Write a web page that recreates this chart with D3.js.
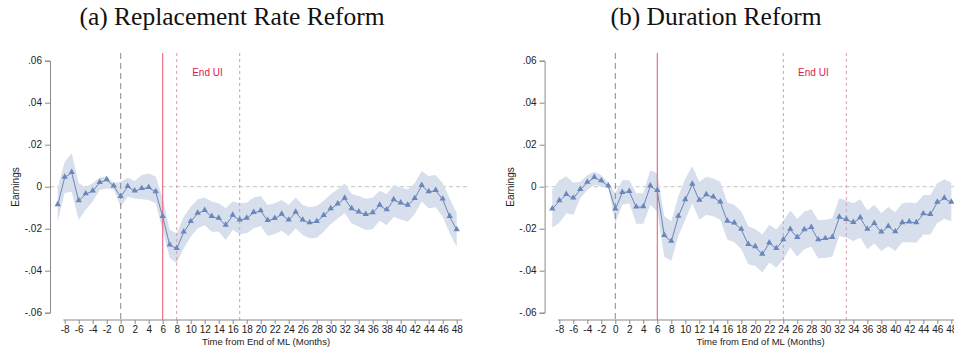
<!DOCTYPE html>
<html>
<head>
<meta charset="utf-8">
<script src="https://cdn.jsdelivr.net/npm/d3@7"></script>
<style>
  body { margin: 0; background: #fff; }
  svg { display: block; }
  .tick text { font-family: "Liberation Sans", Arial, sans-serif; font-size: 10px; fill: #222; }
</style>
</head>
<body>
<svg id="chart" width="954" height="355"></svg>
<script>
// months since end of maternity leave
var months = d3.range(-9, 49)

var xTicks = d3.range(-8, 49, 2)
var yTicks = [-0.06, -0.04, -0.02, 0, 0.02, 0.04, 0.06]

// (a) replacement rate reform
var rrEst = [-0.0087, 0.0044, 0.0067, -0.0068, -0.0035, -0.0021, 0.0019, 0.0032, 0.0003, -0.0048,
  0, -0.0021, -0.001, -0.0005, -0.0025, -0.0143, -0.0278, -0.0295, -0.0217, -0.0167,
  -0.0127, -0.0114, -0.0143, -0.0151, -0.0184, -0.0137, -0.0159, -0.0151, -0.0124, -0.0116,
  -0.0162, -0.0152, -0.0132, -0.016, -0.0122, -0.016, -0.0173, -0.0167, -0.0138, -0.0106,
  -0.0083, -0.0056, -0.0106, -0.0121, -0.0133, -0.0125, -0.0089, -0.0111, -0.0063, -0.0078,
  -0.0089, -0.0057, 0.0005, -0.0025, -0.0019, -0.006, -0.0143, -0.0206]
var rrHi = [-0.0005, 0.0119, 0.0159, 0.0016, -0.0003, 0.0016, 0.0044, 0.005, 0.0016, 0.0024,
  0.0043, 0.0027, 0.0056, 0.0063, 0.0048, -0.0056, -0.0206, -0.0222, -0.0143, -0.0095,
  -0.006, -0.0051, -0.0071, -0.0079, -0.0103, -0.0071, -0.0079, -0.0076, -0.0051, -0.0044,
  -0.0087, -0.0079, -0.0063, -0.0087, -0.0051, -0.0087, -0.0098, -0.0092, -0.0067, -0.0035,
  -0.0013, 0.0016, -0.0035, -0.0044, -0.0057, -0.0051, -0.0019, -0.0035, 0.0008, -0.0003,
  -0.0013, 0.0016, 0.0075, 0.0051, 0.0056, 0.0016, -0.0056, -0.0127]
var rrLo = [-0.0165, -0.003, -0.0024, -0.0159, -0.011, -0.007, -0.0016, -0.0008, -0.0013, -0.0095,
  -0.0048, -0.0056, -0.006, -0.0063, -0.0079, -0.0206, -0.034, -0.0365, -0.0294, -0.0238,
  -0.0198, -0.0183, -0.0214, -0.0214, -0.0254, -0.0206, -0.0225, -0.0222, -0.0198, -0.0187,
  -0.0235, -0.0225, -0.021, -0.0235, -0.0198, -0.023, -0.0246, -0.0243, -0.0214, -0.0178,
  -0.0151, -0.0127, -0.0175, -0.019, -0.0206, -0.0203, -0.0162, -0.0183, -0.0143, -0.0156,
  -0.0167, -0.013, -0.0071, -0.0103, -0.0098, -0.0143, -0.0222, -0.0286]

// (b) duration reform
var durEst = [-0.0107, -0.0068, -0.0038, -0.0055, -0.0014, 0.002, 0.0043, 0.0027, 0.0003, -0.0107,
  -0.0028, -0.0024, -0.0098, -0.0096, 0.0003, -0.0019, -0.0233, -0.0261, -0.0142, -0.0063,
  0.0011, -0.0066, -0.0039, -0.005, -0.0074, -0.0165, -0.0174, -0.0204, -0.0276, -0.0287,
  -0.0322, -0.0269, -0.0295, -0.0254, -0.0204, -0.0243, -0.0206, -0.0195, -0.0254, -0.0248,
  -0.0243, -0.0146, -0.0157, -0.0171, -0.0149, -0.0204, -0.0176, -0.0217, -0.019, -0.0216,
  -0.0172, -0.0169, -0.0172, -0.013, -0.0133, -0.0075, -0.0056, -0.0075]
var durHi = [-0.0013, 0.0031, 0.005, 0.0019, 0.0024, 0.0055, 0.0071, 0.0055, 0.0019, -0.0031,
  0.0031, 0.0031, -0.0031, -0.0031, 0.0078, 0.0063, -0.0141, -0.0165, -0.0047, 0.0039,
  0.0097, 0.0024, 0.0047, 0.0039, 0.0024, -0.0075, -0.0086, -0.0118, -0.0188, -0.0201,
  -0.0228, -0.0181, -0.0204, -0.0165, -0.0113, -0.0154, -0.0118, -0.0107, -0.016, -0.0157,
  -0.0152, -0.0055, -0.0066, -0.0079, -0.006, -0.0113, -0.0086, -0.0126, -0.0097, -0.0122,
  -0.0079, -0.0075, -0.0079, -0.0039, -0.0039, 0.0016, 0.0035, 0.0019]
var durLo = [-0.0196, -0.0173, -0.0126, -0.0133, -0.0055, -0.0016, 0.0008, 0, -0.0003, -0.0173,
  -0.0086, -0.0079, -0.0176, -0.0176, -0.0086, -0.0118, -0.0333, -0.0353, -0.0235, -0.0157,
  -0.0079, -0.0157, -0.0133, -0.0141, -0.0157, -0.0251, -0.0264, -0.0298, -0.0369, -0.0377,
  -0.0408, -0.0361, -0.0385, -0.0345, -0.029, -0.0333, -0.0298, -0.0286, -0.0342, -0.0338,
  -0.0333, -0.0235, -0.0243, -0.0259, -0.0243, -0.0298, -0.027, -0.0306, -0.0283, -0.0306,
  -0.0264, -0.0264, -0.0267, -0.0228, -0.0228, -0.0173, -0.0154, -0.0165]

var panels = [
  { title: '(a) Replacement Rate Reform', titleX: 232, shift: 0, est: rrEst, hi: rrHi, lo: rrLo, endUI: [8, 17], labelAt: 12.4 },
  { title: '(b) Duration Reform', titleX: 716, shift: 494.6, est: durEst, hi: durHi, lo: durLo, endUI: [24, 33], labelAt: 28.3 }
]

var svg = d3.select('#chart')

var yPositionScale = d3.scaleLinear().domain([-0.06, 0.06]).range([312.7, 60.7])

// stata style labels: .06, 0, -.02 with a plain hyphen
var fmt = function(v) {
  if (Math.abs(v) < 1e-9) return '0'
  return (v < 0 ? '-' : '') + Math.abs(v).toFixed(2).replace(/^0/, '')
}

var blue = '#6a86bb'
var red = '#e8647c'
var pink = '#eb93ab'

panels.forEach(function(p) {
  var g = svg.append('g').attr('transform', 'translate(' + p.shift + ',0)')

  var xPositionScale = d3.scaleLinear().domain([-10, 50]).range([50.7, 470.7])

  var rows = months.map(function(m, i) {
    return { m: m, est: p.est[i], hi: p.hi[i], lo: p.lo[i] }
  })

  // title
  svg.append('text')
    .text(p.title)
    .attr('x', p.titleX)
    .attr('y', 25)
    .attr('text-anchor', 'middle')
    .attr('font-family', '"Liberation Serif", "Times New Roman", serif')
    .attr('font-size', 25.5)
    .attr('fill', '#111')

  // zero reference line
  g.append('line')
    .attr('x1', 50).attr('x2', 468)
    .attr('y1', yPositionScale(0)).attr('y2', yPositionScale(0))
    .attr('stroke', '#cfcfcf')
    .attr('stroke-width', 1.2)
    .attr('stroke-dasharray', '4,3')

  // confidence band
  var area = d3.area()
    .x(function(d) { return xPositionScale(d.m) })
    .y0(function(d) { return yPositionScale(d.lo) })
    .y1(function(d) { return yPositionScale(d.hi) })

  g.append('path')
    .datum(rows)
    .attr('d', area)
    .attr('fill', '#d6dfeb')

  // event lines
  var top = 53
  var bottom = 320
  g.append('line')
    .attr('x1', xPositionScale(0)).attr('x2', xPositionScale(0))
    .attr('y1', top).attr('y2', bottom)
    .attr('stroke', '#8a8a8a')
    .attr('stroke-dasharray', '6,4')

  g.append('line')
    .attr('x1', xPositionScale(6)).attr('x2', xPositionScale(6))
    .attr('y1', top).attr('y2', bottom)
    .attr('stroke', red)
    .attr('stroke-width', 1.1)

  p.endUI.forEach(function(m) {
    g.append('line')
      .attr('x1', xPositionScale(m)).attr('x2', xPositionScale(m))
      .attr('y1', top).attr('y2', bottom)
      .attr('stroke', pink)
      .attr('stroke-dasharray', '3,3')
  })

  g.append('text')
    .text('End UI')
    .attr('x', xPositionScale(p.labelAt))
    .attr('y', 75.5)
    .attr('text-anchor', 'middle')
    .attr('font-family', '"Liberation Sans", Arial, sans-serif')
    .attr('font-size', 10)
    .attr('fill', '#d9234f')

  // estimates
  var line = d3.line()
    .x(function(d) { return xPositionScale(d.m) })
    .y(function(d) { return yPositionScale(d.est) })

  g.append('path')
    .datum(rows)
    .attr('d', line)
    .attr('fill', 'none')
    .attr('stroke', blue)
    .attr('stroke-width', 1)

  g.selectAll('.marker')
    .data(rows)
    .enter()
    .append('path')
    .attr('class', 'marker')
    .attr('d', d3.symbol().type(d3.symbolTriangle).size(17))
    .attr('transform', function(d) {
      return 'translate(' + xPositionScale(d.m) + ',' + (yPositionScale(d.est) - 0.5) + ')'
    })
    .attr('fill', blue)

  // axes
  var yAxis = d3.axisLeft(yPositionScale)
    .tickValues(yTicks)
    .tickFormat(fmt)
    .tickSize(5)
    .tickPadding(3)
  var ya = g.append('g')
    .attr('transform', 'translate(50,0)')
    .call(yAxis)
  ya.select('.domain').attr('stroke', '#8a8a8a')
  ya.selectAll('.tick line').attr('stroke', '#8a8a8a')

  var xAxis = d3.axisBottom(xPositionScale)
    .tickValues(xTicks)
    .tickFormat(function(d) { return String(d) })
    .tickSize(4)
    .tickPadding(2)
  var xa = g.append('g')
    .attr('transform', 'translate(0,320)')
    .call(xAxis)
  xa.select('.domain')
    .attr('d', 'M' + xPositionScale(-8.2) + ',0H' + xPositionScale(48.8))
    .attr('stroke', '#8a8a8a')
  xa.selectAll('.tick line').attr('stroke', '#8a8a8a')

  // axis titles
  g.append('text')
    .text('Earnings')
    .attr('transform', 'translate(19,187) rotate(-90)')
    .attr('text-anchor', 'middle')
    .attr('font-family', '"Liberation Sans", Arial, sans-serif')
    .attr('font-size', 10)
    .attr('fill', '#222')

  g.append('text')
    .text('Time from End of ML (Months)')
    .attr('x', 266)
    .attr('y', 345)
    .attr('text-anchor', 'middle')
    .attr('font-family', '"Liberation Sans", Arial, sans-serif')
    .attr('font-size', 9.5)
    .attr('fill', '#222')
})
</script>
</body>
</html>
